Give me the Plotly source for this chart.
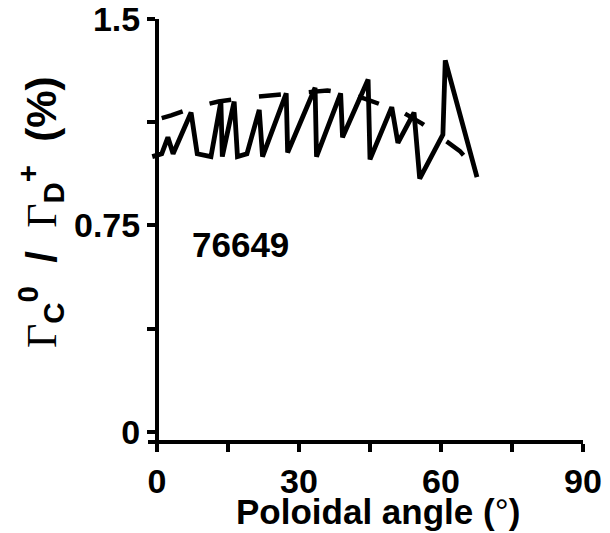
import plotly.graph_objects as go

# Solid series (sawtooth) – poloidal angle (deg) vs ratio
solid_angle = [-1.0, 1.0, 2.3, 3.4, 7.2, 8.5, 11.4, 13.5, 13.8, 16.3, 17.0, 19.0,
               21.6, 22.3, 27.3, 27.6, 33.4, 33.7, 38.8, 39.2, 44.6, 45.0, 49.6,
               50.9, 54.3, 55.5, 60.4, 60.9, 67.6]
solid_val = [1.0, 1.01, 1.07, 1.01, 1.16, 1.01, 1.0, 1.2, 1.0, 1.2, 1.0, 1.01,
             1.17, 1.0, 1.23, 1.015, 1.25, 1.0, 1.23, 1.07, 1.28, 0.99, 1.18,
             1.05, 1.16, 0.92, 1.08, 1.35, 0.925]

# Dashed series
dash_angle = [1, 3, 8, 13, 19, 25, 31, 36, 40, 44, 48, 52, 56, 60, 64, 67]
dash_val = [1.14, 1.15, 1.18, 1.2, 1.215, 1.225, 1.235, 1.24, 1.23, 1.21, 1.185,
            1.16, 1.12, 1.07, 1.02, 0.96]

x_ticks = [0, 30, 60, 90]
x_minor_ticks = [15, 45, 75]
y_ticks = [0, 0.75, 1.5]
y_ticktext = ["0", "0.75", "1.5"]
y_minor_ticks = [0.375, 1.125]

shot_label = "76649"

FONT = "Liberation Sans, Arial, sans-serif"

fig = go.Figure()
fig.add_trace(go.Scatter(x=dash_angle, y=dash_val, mode="lines",
                         line=dict(color="black", width=4.5, dash="22px,28px"),
                         showlegend=False))
fig.add_trace(go.Scatter(x=solid_angle, y=solid_val, mode="lines",
                         line=dict(color="black", width=4.8),
                         showlegend=False))

xmin = -1.9
minor_style = dict(ticks="outside", ticklen=8, tickwidth=4, tickcolor="black",
                   showgrid=False)
fig.update_layout(
    width=610, height=533,
    margin=dict(l=148, r=27, t=19, b=93),
    paper_bgcolor="white", plot_bgcolor="white",
    font=dict(family=FONT, size=34, color="black"),
    xaxis=dict(range=[xmin, 90], tickvals=x_ticks,
               minor=dict(tickvals=x_minor_ticks, **minor_style),
               automargin=False,
               showgrid=False, zeroline=False, showline=True, linewidth=4,
               linecolor="black", ticks="outside", ticklen=8, tickwidth=4,
               tickcolor="black", ticklabeloverflow="allow",
               tickfont=dict(family=FONT, size=34, color="black", weight="bold")),
    yaxis=dict(range=[-0.03, 1.5], tickvals=y_ticks, ticktext=y_ticktext,
               minor=dict(tickvals=y_minor_ticks, **minor_style),
               automargin=False,
               anchor="free", position=(0 - xmin) / (90 - xmin),
               showgrid=False, zeroline=False, showline=True, linewidth=4,
               linecolor="black", ticks="outside", ticklen=8, tickwidth=4,
               tickcolor="black", ticklabeloverflow="allow",
               tickfont=dict(family=FONT, size=34, color="black", weight="bold")),
)

fig.add_annotation(x=17.7, y=0.68, xref="x", yref="y", text="<b>" + shot_label + "</b>",
                   showarrow=False, font=dict(family=FONT, size=35, color="black"),
                   xanchor="center", yanchor="middle")

fig.add_annotation(x=(378 - 148) / 435, y=(440 - 512) / 421, xref="paper", yref="paper",
                   text="<b>Poloidal angle (</b>°<b>)</b>", showarrow=False,
                   font=dict(family=FONT, size=35, color="black"),
                   xanchor="center", yanchor="middle")

ytitle = ('<span style="font-family:\'Liberation Serif\'">Γ</span>'
          '<b><sub>C</sub><sup>0</sup>  /  </b>'
          '<span style="font-family:\'Liberation Serif\'">Γ</span>'
          '<b><sub>D</sub><sup>+</sup>  (%)</b>')
fig.add_annotation(x=(40 - 148) / 435, y=(440 - 212) / 421, xref="paper", yref="paper",
                   text=ytitle, showarrow=False, textangle=-90,
                   font=dict(family=FONT, size=42, color="black"),
                   xanchor="center", yanchor="middle")

fig.write_html("out.html", config={"displayModeBar": False},
               post_script="document.body.style.margin='0';")
